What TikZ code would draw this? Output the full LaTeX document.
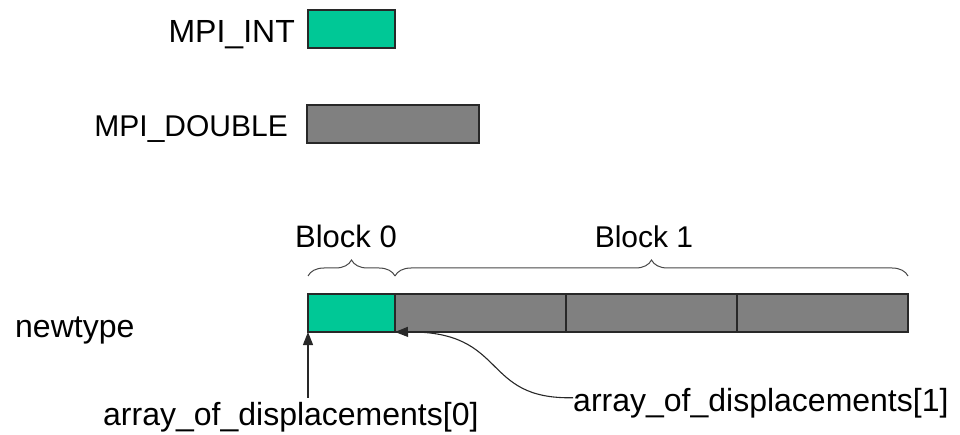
\documentclass[tikz,border=0pt]{standalone}
\usepackage{fontspec}
\setmainfont{Liberation Sans}
\usetikzlibrary{arrows.meta,decorations.pathreplacing}
\definecolor{intgreen}{RGB}{0,200,150}
\definecolor{dblgray}{RGB}{128,128,128}
\definecolor{edge}{RGB}{40,40,40}
\newcommand{\fs}[1]{\fontsize{#1}{#1}\selectfont}
\begin{document}
\begin{tikzpicture}[x=1pt,y=-1pt,
  txt/.style={inner sep=0pt,text=black,font=\fs{32}},
  cell/.style={draw=edge,line width=1.3pt,inner sep=0pt,outer sep=0pt,minimum height=38pt,anchor=north west},
  intcell/.style={cell,fill=intgreen},
  dblcell/.style={cell,fill=dblgray},
  blockbrace/.style={draw=edge!85,line width=1pt,decorate,decoration={brace,amplitude=16pt}},
  pointer/.style={draw=edge,line width=1.1pt,arrows={-Triangle[length=13pt,width=10pt]}}]
\useasboundingbox (0,0) rectangle (960,435);

% legend: the two basic types
\node[intcell,minimum width=87pt] (lint) at (308,10) {};
\node[txt,anchor=base east] (tint) at (295,43) {MPI\_INT};
\node[dblcell,minimum width=172pt] (ldbl) at (307,105) {};
\node[txt,anchor=base east,font=\fs{30}] (tdbl) at (288,137) {MPI\_DOUBLE};

% the derived type: one int followed by three doubles
\node[intcell,minimum width=87pt] (g0) at (308,294) {};
\node[dblcell,minimum width=171pt] (d1) at (g0.north east) {};
\node[dblcell,minimum width=171pt] (d2) at (d1.north east) {};
\node[dblcell,minimum width=171pt] (d3) at (d2.north east) {};
\node[txt,anchor=base west] (nt) at (15,337) {newtype};

% block braces and their labels
\draw[blockbrace] ([yshift=18pt]g0.north west) -- ([yshift=18pt]g0.north east);
\draw[blockbrace] ([yshift=18pt]d1.north west) -- ([yshift=18pt]d3.north east);
\node[txt,anchor=base,font=\fs{31}] (b0) at (346,248) {Block 0};
\node[txt,anchor=base,font=\fs{30}] (b1) at (644,248) {Block 1};

% displacement labels and pointers
\node[txt,anchor=base west] (a0) at (103,425) {array\_of\_displacements[0]};
\node[txt,anchor=base west] (a1) at (573,411) {array\_of\_displacements[1]};
\draw[pointer] ([yshift=4pt]a0.north -| g0.south west) -- (g0.south west);
\draw[pointer] ([yshift=5pt]a1.west) .. controls +(-93,2) and +(114,-1) .. (g0.south east);
\end{tikzpicture}
\end{document}
